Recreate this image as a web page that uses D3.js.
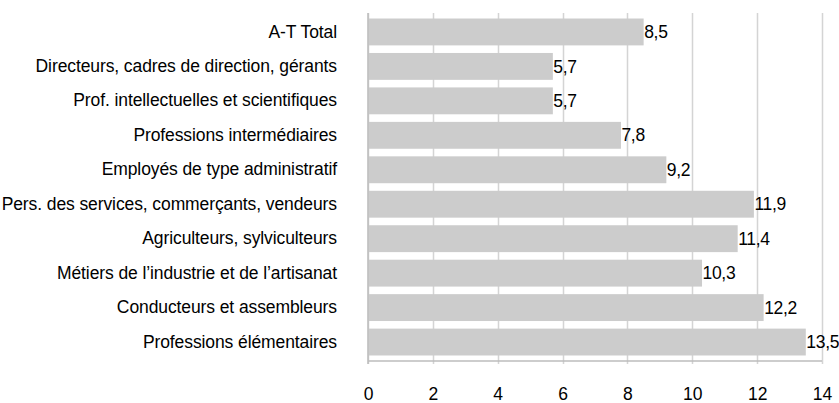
<!DOCTYPE html>
<html>
<head>
<meta charset="utf-8">
<script src="https://cdn.jsdelivr.net/npm/d3@7"></script>
<style>
  body { margin: 0; background: #fff; }
  text { font-family: "Liberation Sans", Arial, sans-serif; }
</style>
</head>
<body>
<div id="chart"></div>
<script>
const categories = [
  "A-T Total",
  "Directeurs, cadres de direction, gérants",
  "Prof. intellectuelles et scientifiques",
  "Professions intermédiaires",
  "Employés de type administratif",
  "Pers. des services, commerçants, vendeurs",
  "Agriculteurs, sylviculteurs",
  "Métiers de l’industrie et de l’artisanat",
  "Conducteurs et assembleurs",
  "Professions élémentaires"
];
const values = [8.5, 5.7, 5.7, 7.8, 9.2, 11.9, 11.4, 10.3, 12.2, 13.5];
const xTicks = [0, 2, 4, 6, 8, 10, 12, 14];

const width = 839,
  height = 403,
  margin = ({ top: 13, right: 17, bottom: 42, left: 368 }),
  fontSize = 17.5;

const x = d3.scaleLinear()
  .domain([0, 14])
  .range([margin.left, width - margin.right]);

const y = d3.scaleBand()
  .domain(categories)
  .range([margin.top, height - margin.bottom])
  .paddingInner(0.22)
  .paddingOuter(0.16);

const svg = d3.select("#chart")
  .append("svg")
  .attr("width", width)
  .attr("height", height);

// gridlines
svg.append("g")
  .selectAll("line")
  .data(xTicks)
  .join("line")
  .attr("x1", d => Math.round(x(d)) + 0.5)
  .attr("x2", d => Math.round(x(d)) + 0.5)
  .attr("y1", margin.top)
  .attr("y2", height - margin.bottom + 3)
  .attr("stroke", "#d4d4d4")
  .attr("stroke-width", 1.5);

// bars
svg.append("g")
  .selectAll("rect")
  .data(values)
  .join("rect")
  .attr("x", x(0) + 1)
  .attr("y", (d, i) => y(categories[i]))
  .attr("width", d => x(d) - x(0) - 1)
  .attr("height", y.bandwidth())
  .attr("fill", "#cccccc");

// value labels
svg.append("g")
  .selectAll("text")
  .data(values)
  .join("text")
  .attr("x", d => x(d) + 0.5)
  .attr("y", (d, i) => y(categories[i]) + y.bandwidth() / 2)
  .attr("dy", "0.35em")
  .attr("font-size", fontSize)
  .attr("letter-spacing", -0.3)
  .attr("fill", "#000")
  .text(d => d.toString().replace(".", ","));

// left axis line & bottom line
svg.append("line")
  .attr("x1", x(0)).attr("x2", x(0))
  .attr("y1", margin.top).attr("y2", height - margin.bottom + 3)
  .attr("stroke", "#bdbdbd").attr("stroke-width", 1.5);
svg.append("line")
  .attr("x1", x(0)).attr("x2", x(14))
  .attr("y1", height - margin.bottom).attr("y2", height - margin.bottom)
  .attr("stroke", "#bdbdbd").attr("stroke-width", 1.5);

// category labels
svg.append("g")
  .attr("transform", `translate(${margin.left - 31},0)`)
  .call(d3.axisLeft(y).tickSize(0).tickPadding(0))
  .call(g => g.select(".domain").remove())
  .call(g => g.selectAll("text")
    .attr("font-family", "Liberation Sans, Arial, sans-serif")
    .attr("font-size", fontSize)
    .attr("letter-spacing", -0.1)
    .attr("fill", "#000"));

// x tick labels
svg.append("g")
  .attr("transform", `translate(0,${height - 3})`)
  .call(d3.axisBottom(x).tickValues(xTicks).tickSize(0).tickPadding(0))
  .call(g => g.select(".domain").remove())
  .call(g => g.selectAll("text")
    .attr("dy", 0)
    .attr("font-family", "Liberation Sans, Arial, sans-serif")
    .attr("font-size", fontSize)
    .attr("fill", "#000"));
</script>
</body>
</html>
